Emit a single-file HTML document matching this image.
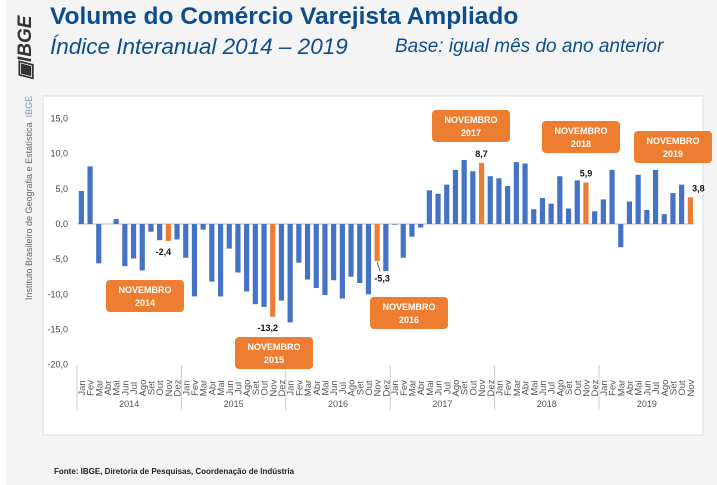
<!DOCTYPE html>
<html><head><meta charset="utf-8"><style>
body{margin:0;width:717px;height:485px;background:#f4f4f4;font-family:"Liberation Sans",sans-serif;overflow:hidden;position:relative}
.abs{position:absolute}
</style></head><body>
<div class="abs" style="left:0;top:0;width:6px;height:485px;background:#fff"></div>
<div class="abs" style="left:14px;top:80px;transform:rotate(-90deg);transform-origin:left top;font:italic 900 19px 'Liberation Sans',sans-serif;color:#333;letter-spacing:0">▣IBGE</div>
<div class="abs" style="left:24px;top:300px;transform:rotate(-90deg);transform-origin:left top;font-size:9px;color:#666;white-space:nowrap;width:200px;text-align:left">Instituto Brasileiro de Geografia e Estatística &nbsp;<span style="color:#7b96c9">IBGE</span></div>
<div class="abs" style="left:50px;top:3px;font-size:24.5px;font-weight:bold;color:#0e4d8c">Volume do Comércio Varejista Ampliado</div>
<div class="abs" style="left:50px;top:34px;font-size:22.5px;font-style:italic;color:#0e4d8c">Índice Interanual 2014 – 2019</div>
<div class="abs" style="left:395px;top:36px;font-size:19px;font-style:italic;color:#0e4d8c">Base: igual mês do ano anterior</div>
<div class="abs" style="left:54px;top:467px;font-size:8px;font-weight:bold;color:#222">Fonte: IBGE, Diretoria de Pesquisas, Coordenação de Indústria</div>
<svg class="abs" style="left:0;top:0" width="717" height="485">
<rect x="43" y="96" width="660" height="339" fill="#fff" stroke="#ddd"/>
<g id="g"></g>
</svg>
<script>
const months=["Jan","Fev","Mar","Abr","Mai","Jun","Jul","Ago","Set","Out","Nov","Dez"];
const years=["2014","2015","2016","2017","2018","2019"];
const yTicks=[15,10,5,0,-5,-10,-15,-20];
const values=[4.7,8.2,-5.6,0,0.7,-6.0,-4.9,-6.6,-1.1,-2.3,-2.4,-2.2,
-4.8,-10.3,-0.8,-8.2,-10.3,-3.5,-6.9,-9.6,-11.4,-11.8,-13.2,-10.9,
-14.0,-5.5,-7.9,-9.1,-10.1,-8.0,-10.6,-7.5,-8.4,-10.0,-5.3,-6.7,
-0.1,-4.8,-1.8,-0.5,4.8,4.3,5.6,7.7,9.1,7.5,8.7,6.8,
6.5,5.4,8.8,8.6,2.1,3.7,2.9,6.8,2.2,6.2,5.9,1.8,
3.5,7.7,-3.3,3.2,7.0,2.0,7.7,1.4,4.4,5.6,3.8];
const calloutYears=["2014","2015","2016","2017","2018","2019"];
const NS="http://www.w3.org/2000/svg",g=document.getElementById('g');
const X0=77,CW=8.7,Y0=224,PU=7.03;
const xs=i=>X0+CW*(i+0.5), ys=v=>Y0-v*PU;
function mk(t,a,txt){const e=document.createElementNS(NS,t);for(const k in a)e.setAttribute(k,a[k]);if(txt!=null)e.textContent=txt;g.appendChild(e);return e;}
yTicks.forEach(v=>{const e=mk('text',{x:68,y:ys(v)+3,'text-anchor':'end','font-size':9,fill:'#444'},v.toFixed(1).replace('.',','));

});
const z=mk('line',{x1:X0,x2:X0+CW*values.length,y1:Y0,y2:Y0,stroke:'#bbb'});


values.forEach((v,i)=>{const nov=i%12===10;const y=Math.min(ys(v),Y0),h=Math.abs(ys(v)-Y0);
const r=mk('rect',{x:xs(i)-2.6,y:y,width:5.2,height:Math.max(h,0.01),fill:nov?'#ed7d31':'#4472c4'});


const t=mk('text',{x:xs(i)+3.5,y:388,'font-size':9.5,fill:'#555','text-anchor':'middle',transform:`rotate(-90 ${xs(i)+3.5} 388)`},months[i%12]);


if(nov){const lbl=v.toFixed(1).replace('.',',');const yr=years[Math.floor(i/12)];
let lx=xs(i)+(v<0?-5:0)+(i>=70?8:0),ly=v<0?ys(v)+14:ys(v)-6;
if(yr==='2016'){lx=xs(i)+5;ly=ys(v)+20;
const ld=mk('line',{x1:xs(i),y1:ys(v)+1,x2:xs(i)+3,y2:ys(v)+10,stroke:'#333','stroke-width':0.8});

}
const vt=mk('text',{x:lx,y:ly,'font-size':9,'font-weight':'bold','text-anchor':'middle',fill:'#111'},lbl);

}
});
years.forEach((yr,k)=>{const x=X0+CW*12*k;
const l=mk('line',{x1:x,x2:x,y1:365,y2:410,stroke:'#ccc'});


const t=mk('text',{x:x+CW*Math.min(12,values.length-12*k)/2,y:407,'font-size':9,fill:'#555','text-anchor':'middle'},yr);

});
const boxes=[[106,280],[235,337],[370,297],[432,110],[542,121],[634,131]];
calloutYears.forEach((yr,k)=>{const [bx,by]=boxes[k];
const r=mk('rect',{x:bx,y:by,width:78,height:32,rx:4,fill:'#ed7d31'});


const a=mk('text',{x:bx+39,y:by+13,'font-size':9,'font-weight':'bold',fill:'#fff','text-anchor':'middle'},'NOVEMBRO');


const b=mk('text',{x:bx+39,y:by+26,'font-size':9,'font-weight':'bold',fill:'#fff','text-anchor':'middle'},yr);

});
</script>
</body></html>
